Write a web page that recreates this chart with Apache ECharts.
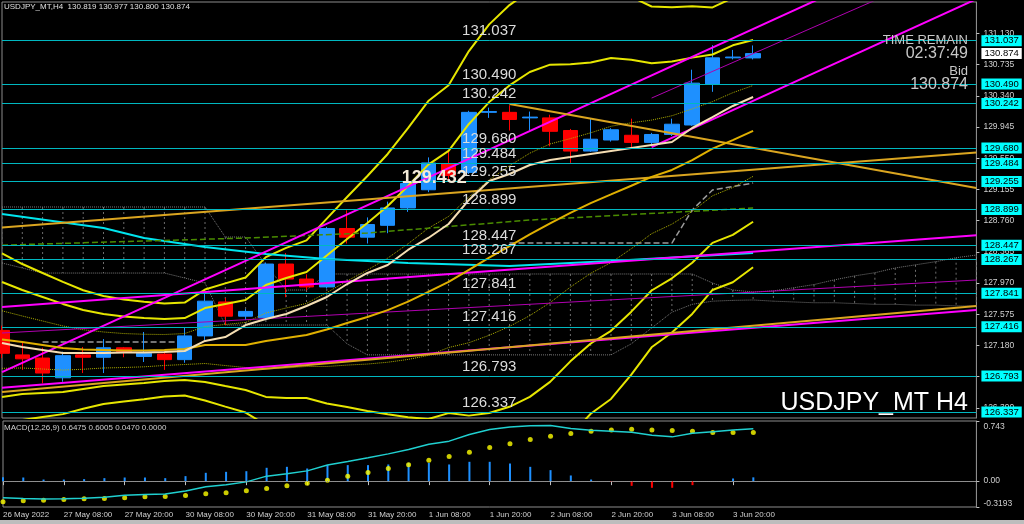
<!DOCTYPE html>
<html><head><meta charset="utf-8">
<script src="https://cdn.jsdelivr.net/npm/echarts@6/dist/echarts.min.js"></script>
<style>html,body{margin:0;padding:0;background:#000;overflow:hidden}#c{width:1024px;height:524px}</style>
</head><body><div id="c"></div>
<script>
// ---------- DATA ----------
const categories = ['26 May 2022','27 May 00:00','27 May 04:00','27 May 08:00','27 May 12:00','27 May 16:00','27 May 20:00',
 '30 May 00:00','30 May 04:00','30 May 08:00','30 May 12:00','30 May 16:00','30 May 20:00',
 '31 May 00:00','31 May 04:00','31 May 08:00','31 May 12:00','31 May 16:00','31 May 20:00',
 '1 Jun 00:00','1 Jun 04:00','1 Jun 08:00','1 Jun 12:00','1 Jun 16:00','1 Jun 20:00',
 '2 Jun 00:00','2 Jun 04:00','2 Jun 08:00','2 Jun 12:00','2 Jun 16:00','2 Jun 20:00',
 '3 Jun 00:00','3 Jun 04:00','3 Jun 08:00','3 Jun 12:00','3 Jun 16:00','3 Jun 20:00',
 '6 Jun 00:00','6 Jun 04:00','6 Jun 08:00','6 Jun 12:00','6 Jun 16:00','6 Jun 20:00',
 '7 Jun 00:00','7 Jun 04:00','7 Jun 08:00','7 Jun 12:00','7 Jun 16:00','7 Jun 20:00'];
const lastLabelIndex = 36;

const opens  = [127.37,127.06,127.02,126.77,127.06,127.03,127.15,127.04,127.07,127.00,127.30,127.73,127.55,127.53,128.21,128.02,127.92,128.66,128.55,128.70,128.92,129.15,129.48,129.37,130.13,130.13,130.06,130.06,129.90,129.64,129.78,129.84,129.75,129.85,129.97,130.49,130.82,130.819];
const highs  = [127.43,127.21,127.15,127.10,127.16,127.26,127.16,127.35,127.09,127.40,127.84,127.78,127.64,128.23,128.35,128.08,128.68,128.89,128.80,129.00,129.25,129.56,129.63,130.15,130.19,130.22,130.14,130.10,129.92,130.05,129.93,130.05,129.87,130.05,130.67,130.98,130.92,130.977];
const lows   = [127.02,126.87,126.70,126.72,126.83,126.83,127.03,126.97,126.87,126.96,127.25,127.44,127.50,127.51,127.79,127.88,127.90,128.47,128.47,128.60,128.87,129.12,129.27,129.35,130.06,129.90,129.90,129.70,129.49,129.63,129.76,129.68,129.73,129.83,129.96,130.39,130.80,130.800];
const closes = [127.08,127.01,126.83,127.05,127.03,127.15,127.10,127.08,127.00,127.30,127.74,127.55,127.61,128.21,128.02,127.92,128.66,128.55,128.71,128.92,129.23,129.49,129.33,130.13,130.14,130.04,130.07,129.89,129.64,129.79,129.91,129.75,129.85,129.98,130.50,130.82,130.83,130.874];

// Bollinger bands (20)
const bbMid = [127.254,127.223,127.185,127.147,127.128,127.122,127.115,127.115,127.122,127.134,127.185,127.185,127.185,127.236,127.274,127.312,127.381,127.463,127.539,127.626,127.734,127.858,127.983,128.137,128.292,128.437,128.585,128.726,128.858,128.982,129.091,129.201,129.313,129.401,129.525,129.670,129.779,129.895];
const bbUp3 = [128.346,128.210,128.097,127.984,127.878,127.806,127.760,127.733,127.710,127.722,127.887,127.965,128.040,128.298,128.414,128.509,128.785,129.059,129.324,129.603,129.930,130.273,130.473,130.906,131.244,131.488,131.669,131.738,131.678,131.649,131.680,131.592,131.470,131.459,131.472,131.458,131.579,131.620];
const bbUp2 = [127.982,127.881,127.793,127.705,127.628,127.578,127.545,127.527,127.514,127.526,127.653,127.705,127.755,127.944,128.034,128.110,128.317,128.527,128.729,128.944,129.198,129.468,129.643,129.983,130.260,130.471,130.641,130.734,130.738,130.760,130.817,130.795,130.751,130.773,130.823,130.862,130.979,131.045];
const bbUp1 = [127.618,127.552,127.489,127.426,127.378,127.350,127.330,127.321,127.318,127.330,127.419,127.445,127.470,127.590,127.654,127.711,127.849,127.995,128.134,128.285,128.466,128.663,128.813,129.060,129.276,129.454,129.613,129.730,129.798,129.871,129.954,129.998,130.032,130.087,130.174,130.266,130.379,130.470];
const bbLo1 = [126.890,126.894,126.881,126.868,126.878,126.894,126.900,126.909,126.926,126.938,126.951,126.925,126.900,126.882,126.894,126.913,126.913,126.931,126.944,126.967,127.002,127.053,127.153,127.214,127.308,127.420,127.557,127.722,127.918,128.093,128.228,128.404,128.594,128.715,128.876,129.074,129.179,129.320];
const bbLo2 = [126.526,126.565,126.577,126.589,126.628,126.666,126.685,126.703,126.730,126.742,126.717,126.665,126.615,126.528,126.514,126.514,126.445,126.399,126.349,126.308,126.270,126.248,126.323,126.291,126.324,126.403,126.529,126.718,126.978,127.204,127.365,127.607,127.875,128.029,128.227,128.478,128.579,128.745];
const bbLo3 = [126.162,126.236,126.273,126.310,126.378,126.438,126.470,126.497,126.534,126.546,126.483,126.405,126.330,126.174,126.134,126.115,125.977,125.867,125.754,125.649,125.538,125.443,125.493,125.368,125.340,125.386,125.501,125.714,126.038,126.315,126.502,126.810,127.156,127.343,127.578,127.882,127.979,128.170];
// fast moving average (beige)
const fastMA = [127.210,127.160,127.122,127.084,127.084,127.084,127.090,127.090,127.096,127.109,127.236,127.286,127.438,127.514,127.578,127.679,127.793,127.957,128.097,128.198,128.388,128.540,128.717,129.021,129.262,129.350,129.464,129.528,129.565,129.603,129.641,129.679,129.717,129.755,129.932,130.071,130.211,130.324];
// slow moving averages [barIndex, price]
const slowMA = [[0,128.843],[5,128.666],[7,128.539],[10,128.425],[13,128.337],[16,128.273],[20,128.223],[25,128.185],[30,128.248],[37,128.349]];
const greenMA = [[0,128.449],[12,128.539],[18,128.603],[26,128.767],[37,128.919]];
// ichimoku-style cloud (grey, dotted) : upper / lower edge per bar
const cloudTop = [128.932,128.932,128.932,128.932,128.932,128.932,128.932,128.932,128.932,128.932,128.932,128.552,128.552,128.198,127.881,127.881,128.084,128.084,128.084,128.084,128.084,128.084,128.084,128.084,128.084,128.084,128.084,128.084,128.084,128.084,128.084,128.084,128.084,128.084,128.084,127.970,127.881,127.856,127.870,127.910,127.950,128.010,128.060,128.100,128.160,128.200,128.240,128.290,128.324];
const cloudBottom = [128.223,128.160,128.096,128.096,128.096,128.096,128.096,128.096,128.096,128.033,127.970,127.438,127.438,127.438,127.438,127.438,127.438,127.200,127.060,127.060,127.060,127.060,127.060,127.060,127.060,127.060,127.060,127.060,127.060,127.060,127.060,127.200,127.400,127.600,127.700,127.740,127.750,127.755,127.740,127.730,127.720,127.720,127.710,127.700,127.700,127.690,127.690,127.680,127.680];
const kijunLeft = [[2,127.223],[9,127.223]];
const kijunRight = [[25,128.476],[33,128.476],[34,128.894],[35,129.147],[37,129.236]];
// trend lines [barIndex, price]
const magentaLines = [
  [[0,126.842],[48,132.476]],
  [[0,126.643],[48,127.628]],
  [[32,129.690],[48,131.564]],
  [[0,127.665],[48,128.574]]
];
const purpleLines = [
  [[32,130.311],[48,132.110]],
  [[0,127.337],[48,128.008]]
];
const orangeLines = [
  [[0,126.590],[48,127.679]],
  [[0,128.672],[48,129.621]],
  [[25,130.236],[48,129.172]]
];
// horizontal levels
const levels = [131.037,130.490,130.242,129.680,129.484,129.255,128.899,128.447,128.267,127.841,127.416,126.793,126.337];
const bidPrice = 130.874;
const priceTicks = [131.130,130.735,130.340,129.945,129.550,129.155,128.760,128.365,127.970,127.575,127.180,126.785,126.390];
const markText = {label:'129.432', bar:21, price:129.30};
// MACD(12,26,9)
const macdLine = [-0.206,-0.215,-0.222,-0.218,-0.210,-0.198,-0.173,-0.164,-0.160,-0.123,-0.070,-0.045,-0.009,0.062,0.090,0.127,0.200,0.243,0.288,0.337,0.390,0.457,0.494,0.577,0.638,0.670,0.683,0.688,0.650,0.630,0.617,0.605,0.568,0.547,0.593,0.609,0.633,0.6475];
const macdSignal = [-0.255,-0.243,-0.235,-0.226,-0.218,-0.214,-0.206,-0.193,-0.189,-0.177,-0.156,-0.144,-0.119,-0.091,-0.058,-0.025,0.012,0.062,0.107,0.156,0.202,0.259,0.305,0.358,0.416,0.461,0.515,0.556,0.589,0.617,0.633,0.642,0.633,0.626,0.617,0.601,0.601,0.6005];
const macdHist = [0.049,0.045,0.020,0.020,0.025,0.037,0.045,0.045,0.037,0.062,0.103,0.115,0.123,0.165,0.177,0.156,0.198,0.198,0.198,0.206,0.226,0.226,0.206,0.239,0.239,0.218,0.177,0.136,0.070,0.020,-0.008,-0.058,-0.082,-0.082,-0.049,0.000,0.033,0.047];
const macdTicks = [0.743,0,-0.3193];

// ---------- CHART ----------
const FONT = 'Liberation Sans';
const chart = echarts.init(document.getElementById('c'), null, {renderer:'canvas'});
const GL = 2, GR = 47.6;
function lineSeries(name, data, color, width, type, z){
  return {name, type:'line', xAxisIndex:0, yAxisIndex:0, data, symbol:'none', silent:true, z:z||3,
    lineStyle:{color, width, type:type||'solid'}, animation:false};
}
const series = [];
// cloud hatch (vertical dotted lines between the two edges)
series.push({type:'custom', xAxisIndex:0, yAxisIndex:0, z:1, silent:true, animation:false, clip:true,
  data: cloudTop.map((t,i)=>[i, t, cloudBottom[i]]),
  renderItem:(params, api)=>{
    const a = api.coord([api.value(0), api.value(1)]);
    const b = api.coord([api.value(0), api.value(2)]);
    return {type:'line', shape:{x1:a[0], y1:a[1], x2:b[0], y2:b[1]}, style:{stroke:'#6e6e6e', lineWidth:1, lineDash:[2,3]}};
  }});
series.push(lineSeries('cloudTop', cloudTop, '#7a7a7a', 1, 'dotted', 1));
series.push(lineSeries('cloudBottom', cloudBottom, '#7a7a7a', 1, 'dotted', 1));
series.push(lineSeries('kijunL', kijunLeft, '#9a9a9a', 1.5, 'dashed', 1));
series.push(lineSeries('kijunR', kijunRight, '#9a9a9a', 1.5, 'dashed', 1));
series.push({type:'candlestick', xAxisIndex:0, yAxisIndex:0, z:2, barWidth:15,
  data: opens.map((o,i)=>[o, closes[i], lows[i], highs[i]]),
  itemStyle:{color:'#1e90ff', color0:'#ff0000', borderColor:'#1e90ff', borderColor0:'#ff0000', borderWidth:1},
  markPoint:{symbol:'circle', symbolSize:0, silent:true, z:10,
    data:[{coord:[markText.bar, markText.price], label:{show:true, formatter:markText.label, color:'#f3ead8', fontSize:18, fontWeight:'bold', fontFamily:FONT, offset:[6,0]}}]},
  animation:false});
// horizontal levels with label text above
series.push({type:'line', xAxisIndex:0, yAxisIndex:0, data:[], z:4, silent:true, animation:false,
  markLine:{symbol:['none','none'], silent:true, animation:false, precision:3,
    lineStyle:{color:'#00b8c0', width:1, type:'solid'},
    label:{position:'insideMiddleTop', distance:2, color:'#dcdcdc', fontSize:15, fontFamily:FONT, formatter:p=>p.name},
    data: levels.map(v=>({yAxis:v, name:v.toFixed(3)}))}});
// BB
series.push(lineSeries('bbUp3', bbUp3, '#e6e600', 2));
series.push(lineSeries('bbUp2', bbUp2, '#e6e600', 2));
series.push(lineSeries('bbUp1', bbUp1, '#b0b000', 1, 'dotted'));
series.push(lineSeries('bbLo1', bbLo1, '#b0b000', 1, 'dotted'));
series.push(lineSeries('bbLo2', bbLo2, '#e6e600', 2));
series.push(lineSeries('bbLo3', bbLo3, '#e6e600', 2));
series.push(lineSeries('slowMA', slowMA, '#00e5ee', 2));
series.push(lineSeries('greenMA', greenMA, '#4a8c00', 1.5, 'dashed'));
magentaLines.forEach(l=>series.push(lineSeries('mag', l, '#ff00ff', 2)));
purpleLines.forEach(l=>series.push(lineSeries('pur', l, '#b000b0', 1)));
orangeLines.forEach(l=>series.push(lineSeries('org', l, '#daa520', 2)));
series.push(lineSeries('bbMid', bbMid, '#e0b000', 2));
series.push(lineSeries('fastMA', fastMA, '#f5deb3', 2, 'solid', 4));
// right axis tags
series.push({type:'line', xAxisIndex:0, yAxisIndex:0, data:[], z:6, silent:true, animation:false,
  markLine:{symbol:['none','none'], silent:true, animation:false, precision:3,
    lineStyle:{color:'rgba(0,0,0,0)', width:1},
    label:{show:true, position:'end', distance:5, color:'#000', backgroundColor:'#00ffff', padding:[1,3,0,3], fontSize:9.5, fontFamily:FONT, formatter:p=>p.name},
    data: levels.map(v=>({yAxis:v, name:v.toFixed(3)})).concat([{yAxis:bidPrice, name:bidPrice.toFixed(3), label:{backgroundColor:'#ffffff'}}])}});
// MACD
series.push({type:'bar', xAxisIndex:1, yAxisIndex:1, barWidth:2, silent:true, animation:false,
  data: macdHist.map(v=>({value:v, itemStyle:{color: v<0 ? '#ff0000' : '#1e90ff'}})),
  markLine:{symbol:['none','none'], silent:true, animation:false, label:{show:false},
    lineStyle:{color:'#909090', type:'dotted', width:1}, data:[{yAxis:0}]}});
series.push({type:'line', xAxisIndex:1, yAxisIndex:1, data:macdLine, symbol:'none', silent:true, animation:false,
  lineStyle:{color:'#20d0d0', width:1.5}});
series.push({type:'scatter', xAxisIndex:1, yAxisIndex:1, data:macdSignal, symbolSize:5, silent:true, animation:false,
  itemStyle:{color:'#ffff00'}});

const txt = (t, x, y, size, fill, align, weight) => ({type:'text', x, y, silent:true, z:20,
  style:{text:t, fill, font:(weight||'normal')+' '+size+'px "'+FONT+'"', textAlign:align||'left', textVerticalAlign:'top'}});

chart.setOption({
  backgroundColor:'#000',
  animation:false,
  grid:[
    {left:GL, right:GR, top:2, height:416, show:true, borderColor:'#8c8c8c', borderWidth:1, backgroundColor:'transparent'},
    {left:GL, right:GR, top:421, height:86, show:true, borderColor:'#8c8c8c', borderWidth:1, backgroundColor:'transparent'}
  ],
  xAxis:[
    {type:'category', gridIndex:0, data:categories, boundaryGap:false, axisLine:{show:false}, axisTick:{show:false}, axisLabel:{show:false}, splitLine:{show:false}},
    {type:'category', gridIndex:1, data:categories, boundaryGap:false,
      axisLine:{show:true, lineStyle:{color:'#8c8c8c'}},
      axisTick:{show:true, length:4, interval:(i)=> i%3===0 && i<=lastLabelIndex, lineStyle:{color:'#c0c0c0'}},
      axisLabel:{show:true, interval:(i)=> i%3===0 && i<=lastLabelIndex, align:'left', margin:4, color:'#d0d0d0', fontSize:8, fontFamily:FONT},
      splitLine:{show:false}}
  ],
  yAxis:[
    {type:'value', gridIndex:0, position:'right', min:126.261, max:131.527, scale:true,
      splitLine:{show:false}, axisLine:{show:true, lineStyle:{color:'#8c8c8c'}},
      axisTick:{show:true, customValues:priceTicks, length:3, lineStyle:{color:'#c0c0c0'}},
      axisLabel:{customValues:priceTicks, formatter:v=>v.toFixed(3), color:'#d0d0d0', fontSize:8.5, fontFamily:FONT, margin:7}},
    {type:'value', gridIndex:1, position:'right', min:-0.3193, max:0.743,
      splitLine:{show:false}, axisLine:{show:true, lineStyle:{color:'#8c8c8c'}},
      axisTick:{show:true, customValues:macdTicks, length:3, lineStyle:{color:'#c0c0c0'}},
      axisLabel:{customValues:macdTicks, color:'#d0d0d0', fontSize:8.5, fontFamily:FONT, margin:7,
        formatter:v=> v===0 ? '0.00' : (v>0 ? '{t|'+v+'}' : '{b|'+v+'}'),
        rich:{t:{padding:[11,0,0,0], color:'#d0d0d0', fontSize:8.5, fontFamily:FONT}, b:{padding:[0,0,6,0], color:'#d0d0d0', fontSize:8.5, fontFamily:FONT}}}}
  ],
  series,
  graphic:[
    txt('USDJPY_MT,H4  130.819 130.977 130.800 130.874', 4, 3, 8, '#e0e0e0'),
    txt('MACD(12,26,9) 0.6475 0.6005 0.0470 0.0000', 4, 424, 8, '#d0d0d0'),
    txt('TIME REMAIN', 968, 34, 13, '#c8c8c8', 'right'),
    txt('02:37:49', 968, 46, 16, '#c8c8c8', 'right'),
    txt('Bid', 968, 65, 13, '#c8c8c8', 'right'),
    txt('130.874', 968, 77, 16, '#c8c8c8', 'right'),
    txt('USDJPY_MT H4', 968, 391, 25, '#ffffff', 'right'),
    {type:'rect', x:0, y:520, shape:{width:1024, height:4}, style:{fill:'#bdbdbd'}, silent:true}
  ]
});
</script></body></html>
